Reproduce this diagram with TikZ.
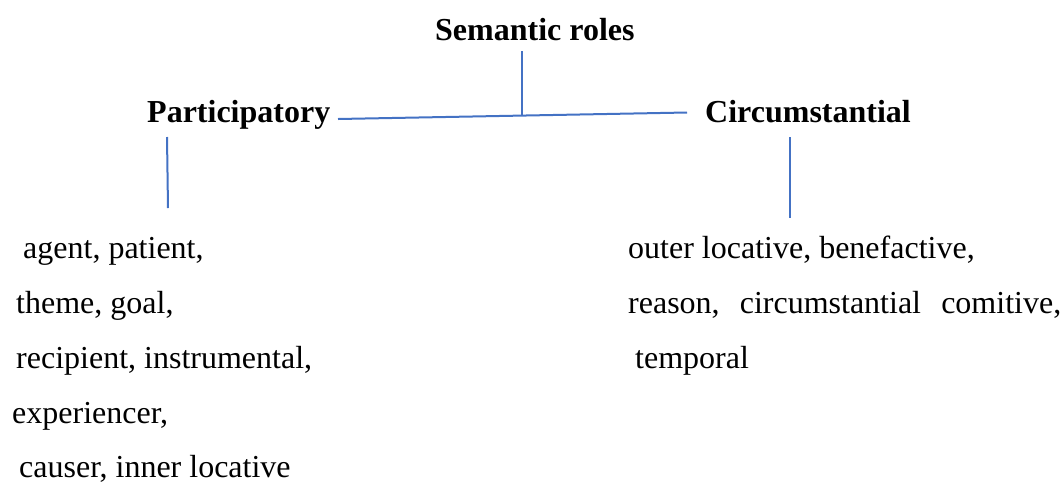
\documentclass[tikz,border=0pt]{standalone}
\usepackage{fontspec}
\setmainfont{Liberation Serif}
\begin{document}
\begin{tikzpicture}[x=1pt,y=-1pt,
  lbl/.style={anchor=base west,inner sep=0pt,font=\fontsize{32}{38}\selectfont},
  head/.style={lbl,font=\fontsize{32}{38}\selectfont\bfseries},
  link/.style={draw={rgb,255:red,68;green,114;blue,196},line width=2pt}]
\useasboundingbox (0,0) rectangle (1064,483);

% headings
\node[head] (root) at (435,40) {Semantic roles};
\node[head] (part) at (147,122) {Participatory};
\node[head] (circ) at (705,122) {Circumstantial};

% role lists
\node[lbl] (p1) at (23,258) {agent, patient,};
\node[lbl] (p2) at (16,313) {theme, goal,};
\node[lbl] (p3) at (16,368) {recipient, instrumental,};
\node[lbl] (p4) at (12,423) {experiencer,};
\node[lbl] (p5) at (19,477) {causer, inner locative};

\node[lbl] (c1) at (628,258) {outer locative, benefactive,};
\node[lbl] (c2) at (628,313) {\hbox to 433pt{reason,\hfill circumstantial\hfill comitive,}};
\node[lbl] (c3) at (635,368) {temporal};

% connector end points
\coordinate (rootdown) at (522,51);
\coordinate (joint) at (522,115.5);
\coordinate (barL) at (338,119);
\coordinate (barR) at (687,112.5);
\coordinate (partA) at (167,137);
\coordinate (partB) at (168,208);
\coordinate (circA) at (790,137);
\coordinate (circB) at (790,218);

\draw[link] (rootdown) -- (joint);
\draw[link] (barL) -- (barR);
\draw[link] (partA) -- (partB);
\draw[link] (circA) -- (circB);
\end{tikzpicture}
\end{document}
